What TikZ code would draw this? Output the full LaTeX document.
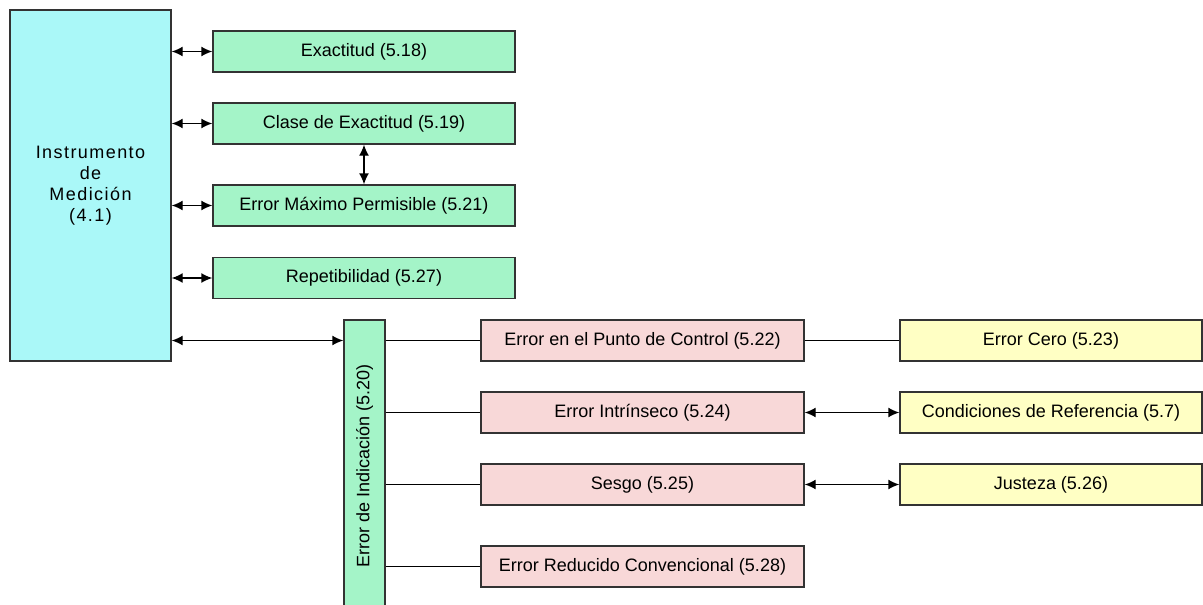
\documentclass[tikz,border=0pt]{standalone}
\usepackage{fontspec}
\setmainfont{Liberation Sans}
\usetikzlibrary{arrows.meta}
\definecolor{instcyan}{HTML}{AAF8F8}
\definecolor{mintgreen}{HTML}{A4F4C8}
\definecolor{pinkbox}{HTML}{F8D8D8}
\definecolor{yellowbox}{HTML}{FFFFC4}

\begin{document}
\begin{tikzpicture}[x=1pt,y=-1pt,
  base/.style={draw=black!80, line width=1.4pt, inner sep=0pt, font=\fontsize{18}{21}\selectfont},
  instr/.style={base, fill=instcyan, minimum width=161pt, minimum height=351pt, align=center},
  grn/.style={base, fill=mintgreen, minimum width=302pt, minimum height=41pt},
  pnk/.style={base, fill=pinkbox, minimum width=323pt, minimum height=41pt},
  ylw/.style={base, fill=yellowbox, minimum width=302pt, minimum height=41pt},
  link/.style={line width=1.4pt},
  both/.style={link, {Latex[length=11pt,width=10pt]}-{Latex[length=11pt,width=10pt]}}
]
\useasboundingbox (0,0) rectangle (1203,605);
\clip (0,0) rectangle (1203,605);

% Main instrument box
\node[instr, font=\fontsize{18}{21}\selectfont\addfontfeature{LetterSpace=8}] (instr) at (90.5,185.5)
  {Instrumento\\de\\Medición\\(4.1)};

% Green column
\node[grn] (exact) at (364,51.5) {Exactitud (5.18)};
\node[grn] (clase) at (364,123.5) {Clase de Exactitud (5.19)};
\node[grn] (emp)   at (364,205.5) {Error Máximo Permisible (5.21)};
\node[grn] (repet) at (364,278)   {Repetibilidad (5.27)};

% Error de indicacion (vertical)
\node[grn, minimum width=41pt, minimum height=292pt] (ei) at (364.5,466) {};
\node[rotate=90, font=\fontsize{18}{21}\selectfont] (eitxt) at (ei.center) {Error de Indicación (5.20)};

% Pink column
\node[pnk] (punto) at (642.5,340.5) {Error en el Punto de Control (5.22)};
\node[pnk] (intr)  at (642.5,412.5) {Error Intrínseco (5.24)};
\node[pnk] (sesgo) at (642.5,484.5) {Sesgo (5.25)};
\node[pnk] (reduc) at (642.5,566.5) {Error Reducido Convencional (5.28)};

% Yellow column
\node[ylw] (cero) at (1051,340.5) {Error Cero (5.23)};
\node[ylw] (cond) at (1051,412.5) {Condiciones de Referencia (5.7)};
\node[ylw] (just) at (1051,484.5) {Justeza (5.26)};

% Links from instrument
\foreach \n in {exact,clase,emp,repet}
  \draw[both] (instr.east |- \n.west) -- (\n.west);
\draw[both] (clase.south) -- (emp.north);
\draw[both] (instr.east |- punto) -- (ei.west |- punto);

% Links from error de indicacion
\foreach \n in {punto,intr,sesgo,reduc}
  \draw[link] (ei.east |- \n.west) -- (\n.west);

% Right links
\draw[link] (punto.east) -- (cero.west);
\draw[both] (intr.east) -- (cond.west);
\draw[both] (sesgo.east) -- (just.west);
\end{tikzpicture}
\end{document}
